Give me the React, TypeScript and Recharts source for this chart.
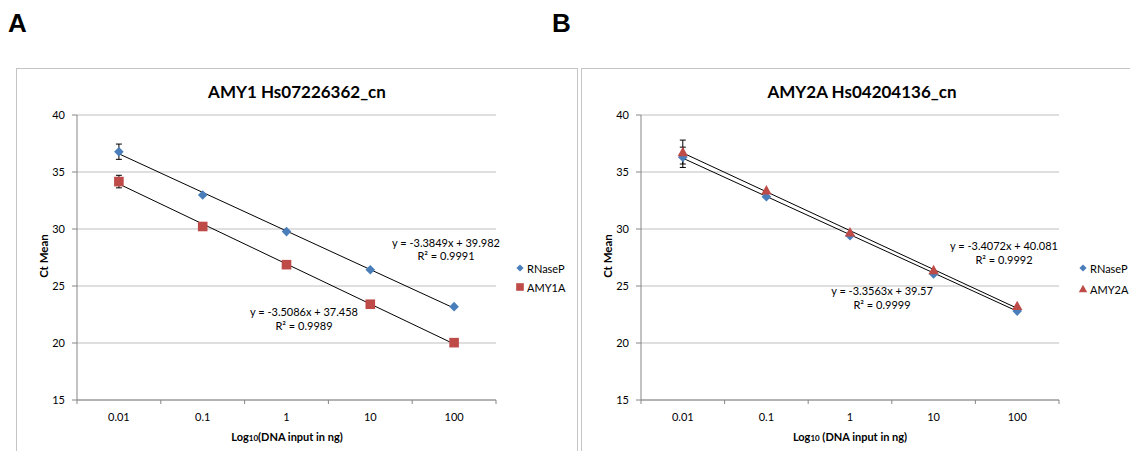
import { ComposedChart, Scatter, Line, XAxis, YAxis, CartesianGrid, ErrorBar } from 'recharts'

// x categories (ng of DNA input, log scale shown as categories)
const doses = ['0.01', '0.1', '1', '10', '100']
const yTicks = [15, 20, 25, 30, 35, 40]

// panel A: AMY1 Hs07226362_cn
const rnaseA = [36.78, 32.98, 29.77, 26.43, 23.19]
const rnaseAErr = [0.67, 0, 0, 0, 0]
const amy1A = [34.16, 30.22, 26.87, 23.4, 20.03]
const amy1AErr = [0.55, 0, 0, 0, 0]

// panel B: AMY2A Hs04204136_cn
const rnaseB = [36.29, 32.83, 29.41, 26.05, 22.8]
const rnaseBErr = [0.89, 0, 0, 0, 0]
const amy2A = [36.75, 33.4, 29.71, 26.4, 23.25]
const amy2AErr = [1.05, 0, 0, 0, 0]

// Excel linear trendlines on category index (x = 1..5): slope, intercept, R²
const fitRnaseA = { slope: -3.3849, icpt: 39.982, r2: '0.9991' }
const fitAmy1A = { slope: -3.5086, icpt: 37.458, r2: '0.9989' }
const fitRnaseB = { slope: -3.3563, icpt: 39.57, r2: '0.9999' }
const fitAmy2A = { slope: -3.4072, icpt: 40.081, r2: '0.9992' }

const BLUE = '#4a7ebb'
const RED = '#be4b48'
const AXIS = '#868686'
const GRID = '#bfbfbf'
const FONT = 'Lato, "Open Sans", sans-serif'

const TOP = 68
const H = 383
const PLOT_TOP = 47
const PLOT_H = 285
const Y_W = 40
const X_H = 40

type Fit = { slope: number; icpt: number; r2: string }

const buildRows = (a: number[], aErr: number[], b: number[], bErr: number[], fa: Fit, fb: Fit) =>
  doses.map((d, i) => ({
    x: i + 1,
    dose: d,
    a: a[i],
    aErr: aErr[i],
    b: b[i],
    bErr: bErr[i],
    aFit: fa.slope * (i + 1) + fa.icpt,
    bFit: fb.slope * (i + 1) + fb.icpt,
  }))

const rowsA = buildRows(rnaseA, rnaseAErr, amy1A, amy1AErr, fitRnaseA, fitAmy1A)
const rowsB = buildRows(rnaseB, rnaseBErr, amy2A, amy2AErr, fitRnaseB, fitAmy2A)

const Diamond = ({ cx, cy, r = 4.8, fill = BLUE }: any) => (
  <polygon points={`${cx},${cy - r} ${cx + r},${cy} ${cx},${cy + r} ${cx - r},${cy}`} fill={fill} />
)
const Square = ({ cx, cy, r = 4.8, fill = RED }: any) => (
  <rect x={cx - r} y={cy - r} width={2 * r} height={2 * r} fill={fill} />
)
const Triangle = ({ cx, cy, r = 5.2, fill = RED }: any) => (
  <polygon points={`${cx},${cy - r} ${cx + r},${cy + r * 0.8} ${cx - r},${cy + r * 0.8}`} fill={fill} />
)

const DoseTick = ({ x, y, payload, band }: any) => {
  const label = doses[Math.round(payload.value - 0.5)]
  return (
    <g>
      <line x1={x} x2={x} y1={y} y2={y + 4} stroke={AXIS} />
      {label !== undefined && (
        <text x={x + band / 2} y={y + 16} textAnchor="middle" dominantBaseline="central" fontSize={11} fontFamily={FONT} fill="#000">
          {label}
        </text>
      )}
    </g>
  )
}

interface PanelProps {
  left: number
  width: number
  plotLeft: number
  plotW: number
  rows: any[]
  shapeB: any
}

function CurvePanel({ left, width, plotLeft, plotW, rows, shapeB }: PanelProps) {
  const margin = {
    top: PLOT_TOP,
    left: plotLeft - Y_W,
    right: width - plotLeft - plotW,
    bottom: H - PLOT_TOP - PLOT_H - X_H,
  }
  return (
    <div style={{ position: 'absolute', left, top: TOP }}>
      <ComposedChart width={width} height={H} data={rows} margin={margin}>
        <CartesianGrid horizontal vertical={false} stroke={GRID} />
        <XAxis
          type="number"
          dataKey="x"
          domain={[0.5, 5.5]}
          ticks={[0.5, 1.5, 2.5, 3.5, 4.5, 5.5]}
          interval={0}
          height={X_H}
          stroke={AXIS}
          tickLine={false}
          tickSize={0}
          tickMargin={0}
          tick={(p: any) => <DoseTick {...p} band={plotW / 5} />}
        />
        <YAxis
          type="number"
          domain={[15, 40]}
          ticks={yTicks}
          width={Y_W}
          stroke={AXIS}
          tickSize={5}
          tickMargin={7}
          tick={{ fontSize: 11, fill: '#000', fontFamily: FONT }}
        />
        <Scatter dataKey="a" shape={(p: any) => <Diamond cx={p.cx} cy={p.cy} />} isAnimationActive={false}>
          <ErrorBar dataKey="aErr" direction="y" width={3} stroke="#000" strokeWidth={1} />
        </Scatter>
        <Scatter dataKey="b" shape={(p: any) => shapeB(p.cx, p.cy)} isAnimationActive={false}>
          <ErrorBar dataKey="bErr" direction="y" width={3} stroke="#000" strokeWidth={1} />
        </Scatter>
        <Line dataKey="aFit" stroke="#000" strokeWidth={1} dot={false} activeDot={false} isAnimationActive={false} />
        <Line dataKey="bFit" stroke="#000" strokeWidth={1} dot={false} activeDot={false} isAnimationActive={false} />
      </ComposedChart>
    </div>
  )
}

const eq = (f: Fit) => `y = ${f.slope}x + ${f.icpt}`

const small = { fontSize: 11, fontFamily: FONT, fill: '#000' }
const bold = { fontFamily: FONT, fontWeight: 700, fill: '#000' }

export default function App() {
  return (
    <div style={{ position: 'fixed', left: 0, top: 0, width: 1130, height: 451, overflow: 'hidden', background: '#fff' }}>
      <div style={{ position: 'absolute', left: 16, top: TOP, width: 562, height: 400, border: '1px solid #c4c4c4', boxSizing: 'border-box' }} />
      <div style={{ position: 'absolute', left: 581, top: TOP, width: 570, height: 400, border: '1px solid #c4c4c4', boxSizing: 'border-box' }} />

      <CurvePanel left={16} width={561} plotLeft={61} plotW={419} rows={rowsA} shapeB={(cx: number, cy: number) => <Square cx={cx} cy={cy} />} />
      <CurvePanel left={581} width={549} plotLeft={60} plotW={418} rows={rowsB} shapeB={(cx: number, cy: number) => <Triangle cx={cx} cy={cy} />} />

      <svg width={1130} height={451} style={{ position: 'absolute', left: 0, top: 0, pointerEvents: 'none' }}>
        <text x={8} y={32} fontFamily="'Liberation Sans', Arial, sans-serif" fontWeight={700} fontSize={26}>A</text>
        <text x={552} y={32} fontFamily="'Liberation Sans', Arial, sans-serif" fontWeight={700} fontSize={26}>B</text>

        {/* panel A */}
        <text x={297} y={91} textAnchor="middle" dominantBaseline="central" fontSize={17} {...bold}>AMY1 Hs07226362_cn</text>
        <text x={43} y={256} textAnchor="middle" dominantBaseline="central" fontSize={11.5} transform="rotate(-90 43 256)" {...bold}>Ct Mean</text>
        <text x={287} y={436} textAnchor="middle" dominantBaseline="central" fontSize={11} {...bold}>
          Log<tspan fontSize={8} dy={2}>10</tspan><tspan dy={-2}>(DNA input in ng)</tspan>
        </text>
        <text x={446} y={242} textAnchor="middle" dominantBaseline="central" {...small}>{eq(fitRnaseA)}</text>
        <text x={446} y={255} textAnchor="middle" dominantBaseline="central" {...small}>R² = {fitRnaseA.r2}</text>
        <text x={304} y={311} textAnchor="middle" dominantBaseline="central" {...small}>{eq(fitAmy1A)}</text>
        <text x={304} y={325} textAnchor="middle" dominantBaseline="central" {...small}>R² = {fitAmy1A.r2}</text>
        <Diamond cx={520} cy={268} r={3.6} />
        <text x={527} y={268} dominantBaseline="central" {...small}>RNaseP</text>
        <Square cx={520} cy={287} r={3.8} />
        <text x={527} y={287} dominantBaseline="central" {...small}>AMY1A</text>

        {/* panel B */}
        <text x={862} y={91} textAnchor="middle" dominantBaseline="central" fontSize={17} {...bold}>AMY2A Hs04204136_cn</text>
        <text x={607} y={256} textAnchor="middle" dominantBaseline="central" fontSize={11.5} transform="rotate(-90 607 256)" {...bold}>Ct Mean</text>
        <text x={850} y={436} textAnchor="middle" dominantBaseline="central" fontSize={11} {...bold}>
          Log<tspan fontSize={8} dy={2}>10</tspan><tspan dy={-2}> (DNA input in ng)</tspan>
        </text>
        <text x={1004} y={245} textAnchor="middle" dominantBaseline="central" {...small}>{eq(fitAmy2A)}</text>
        <text x={1004} y={259} textAnchor="middle" dominantBaseline="central" {...small}>R² = {fitAmy2A.r2}</text>
        <text x={882} y={290} textAnchor="middle" dominantBaseline="central" {...small}>{eq(fitRnaseB)}</text>
        <text x={882} y={304} textAnchor="middle" dominantBaseline="central" {...small}>R² = {fitRnaseB.r2}</text>
        <Diamond cx={1083} cy={268} r={3.6} />
        <text x={1090} y={268} dominantBaseline="central" {...small}>RNaseP</text>
        <Triangle cx={1083} cy={289} r={4.2} />
        <text x={1090} y={289} dominantBaseline="central" {...small}>AMY2A</text>
      </svg>
    </div>
  )
}
